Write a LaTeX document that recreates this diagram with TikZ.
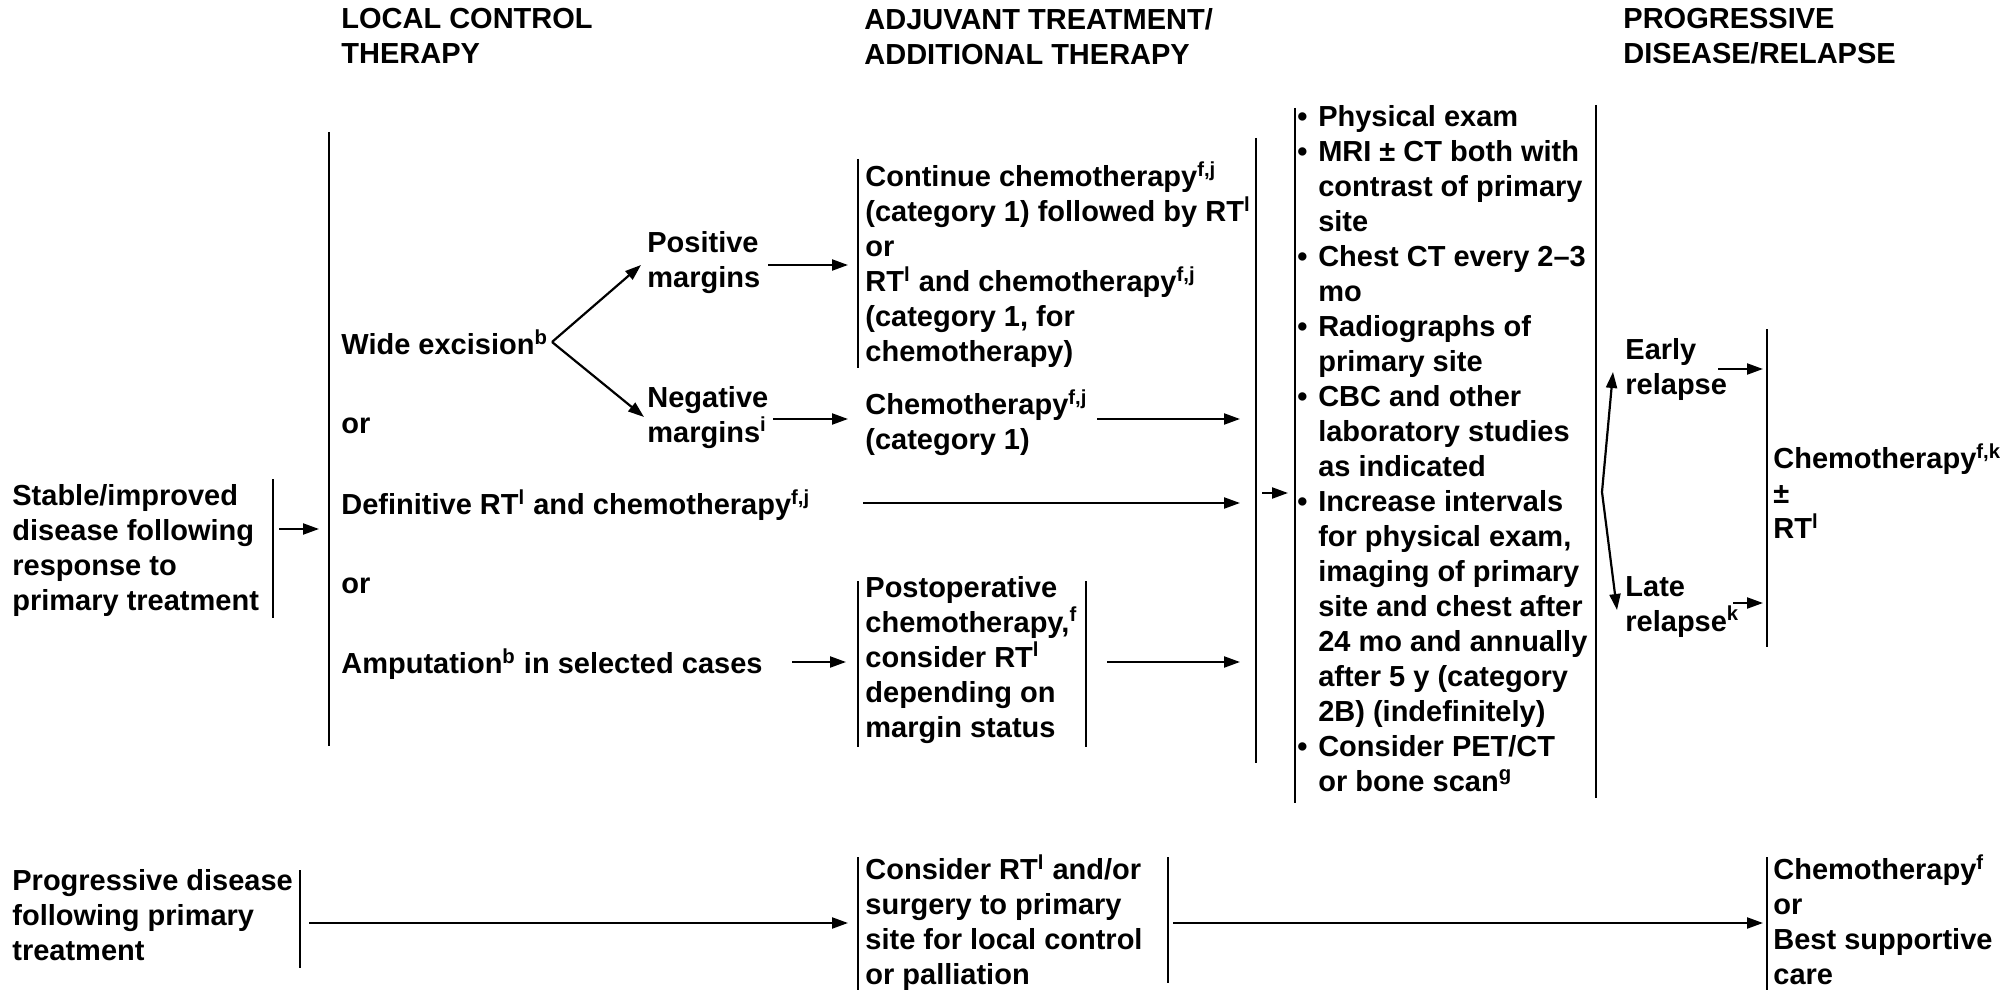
\documentclass[tikz,border=0pt]{standalone}
\usepackage{fontspec}
\setmainfont{Liberation Sans}
\usetikzlibrary{arrows.meta}
\begin{document}
\begin{tikzpicture}[x=0.5pt,y=-0.5pt,
    lbl/.style={anchor=north west,inner sep=0pt,align=left,
      font=\fontsize{14.5}{17.5}\selectfont\bfseries,execute at begin node=\strut},
    bar/.style={line width=1.1pt},
    arr/.style={line width=1.1pt,-{Triangle[length=8pt,width=5.5pt]}}]
    \def\fn#1{\textsuperscript{#1}}
    \def\bul{\makebox[0.72em][l]{•}}
    \def\bpad{\hspace*{0.72em}}
    \useasboundingbox (0,0) rectangle (2015,990);
    % column heads
    \node[lbl] (H0) at (341,8) {LOCAL CONTROL\\THERAPY};
    \node[lbl] (H1) at (864,8) {ADJUVANT TREATMENT/\\ADDITIONAL THERAPY};
    \node[lbl] (H2) at (1623,8) {PROGRESSIVE\\DISEASE/RELAPSE};
    % stable/improved disease
    \node[lbl] (A0_0) at (12,484) {Stable/improved\\disease following\\response to\\primary treatment};
    \node[lbl] (A1_0) at (341,329) {Wide excision\fn{b}};
    \node[lbl] (A1_1) at (341,409) {or};
    \node[lbl] (A1_2) at (341,489) {Definitive RT\fn{l} and chemotherapy\fn{f,j}};
    \node[lbl] (A1_3) at (341,569) {or};
    \node[lbl] (A1_4) at (341,648) {Amputation\fn{b} in selected cases};
    \node[lbl] (A2_0) at (647,231) {Positive\\margins};
    \node[lbl] (A2_1) at (647,386) {Negative\\margins\fn{i}};
    \node[lbl] (A3_0) at (865,161) {Continue chemotherapy\fn{f,j}\\(category 1) followed by RT\fn{l}\\or\\RT\fn{l} and chemotherapy\fn{f,j}\\(category 1, for\\chemotherapy)};
    \node[lbl] (A3_1) at (865,389) {Chemotherapy\fn{f,j}\\(category 1)};
    \node[lbl] (A3_2) at (865,576) {Postoperative\\chemotherapy,\fn{f}\\consider RT\fn{l}\\depending on\\margin status};
    \node[lbl] (A4_0) at (1297,105) {\bul Physical exam\\\bul MRI ± CT both with\\\bpad contrast of primary\\\bpad site\\\bul Chest CT every 2–3\\\bpad mo\\\bul Radiographs of\\\bpad primary site\\\bul CBC and other\\\bpad laboratory studies\\\bpad as indicated\\\bul Increase intervals\\\bpad for physical exam,\\\bpad imaging of primary\\\bpad site and chest after\\\bpad 24 mo and annually\\\bpad after 5 y (category\\\bpad 2B) (indefinitely)\\\bul Consider PET/CT\\\bpad or bone scan\fn{g}};
    \node[lbl] (A5_0) at (1625,338) {Early\\relapse};
    \node[lbl] (A5_1) at (1625,576) {Late\\relapse\fn{k}};
    \node[lbl] (A6_0) at (1773,443) {Chemotherapy\fn{f,k}\\±\\RT\fn{l}};
    % progressive disease
    \node[lbl] (B0) at (12,869) {Progressive disease\\following primary\\treatment};
    \node[lbl] (B1) at (865,854) {Consider RT\fn{l} and/or\\surgery to primary\\site for local control\\or palliation};
    \node[lbl] (B2) at (1773,854) {Chemotherapy\fn{f}\\or\\Best supportive\\care};
    % brackets
    \draw[bar] (273,479) -- (273,618);
    \draw[bar] (329,132) -- (329,746);
    \draw[bar] (858,159) -- (858,368);
    \draw[bar] (858,581) -- (858,747);
    \draw[bar] (1086,581) -- (1086,747);
    \draw[bar] (1256,138) -- (1256,763);
    \draw[bar] (1295,108) -- (1295,803);
    \draw[bar] (1596,105) -- (1596,798);
    \draw[bar] (1767,329) -- (1767,647);
    \draw[bar] (300,870) -- (300,968);
    \draw[bar] (858,857) -- (858,990);
    \draw[bar] (1168,857) -- (1168,983);
    \draw[bar] (1767,857) -- (1767,990);
    % arrow ends
    \coordinate (c0a) at (279,529);  \coordinate (c0b) at (319,529);
    \coordinate (c1a) at (552,342);  \coordinate (c1b) at (641,265);
    \coordinate (c1c) at (644,417);
    \coordinate (c2a) at (768,265);  \coordinate (c2b) at (848,265);
    \coordinate (c3a) at (773,419);  \coordinate (c3b) at (848,419);
    \coordinate (c4a) at (1097,419); \coordinate (c4b) at (1240,419);
    \coordinate (c5a) at (863,503);  \coordinate (c5b) at (1240,503);
    \coordinate (c6a) at (792,662);  \coordinate (c6b) at (846,662);
    \coordinate (c7a) at (1107,662); \coordinate (c7b) at (1240,662);
    \coordinate (c8a) at (1262,493); \coordinate (c8b) at (1288,493);
    \coordinate (c9a) at (1602,492); \coordinate (c9b) at (1613,372);
    \coordinate (c9c) at (1617,610);
    \coordinate (c10a) at (1718,369); \coordinate (c10b) at (1763,369);
    \coordinate (c11a) at (1733,603); \coordinate (c11b) at (1763,603);
    \coordinate (c12a) at (309,923);  \coordinate (c12b) at (848,923);
    \coordinate (c13a) at (1173,923); \coordinate (c13b) at (1763,923);
    \path (c0a) edge [arr] (c0b);
    \path (c1a) edge [arr] (c1b);
    \path (c1a) edge [arr] (c1c);
    \path (c2a) edge [arr] (c2b);
    \path (c3a) edge [arr] (c3b);
    \path (c4a) edge [arr] (c4b);
    \path (c5a) edge [arr] (c5b);
    \path (c6a) edge [arr] (c6b);
    \path (c7a) edge [arr] (c7b);
    \path (c8a) edge [arr] (c8b);
    \path (c9a) edge [arr] (c9b);
    \path (c9a) edge [arr] (c9c);
    \path (c10a) edge [arr] (c10b);
    \path (c11a) edge [arr] (c11b);
    \path (c12a) edge [arr] (c12b);
    \path (c13a) edge [arr] (c13b);
  \end{tikzpicture}
\end{document}
